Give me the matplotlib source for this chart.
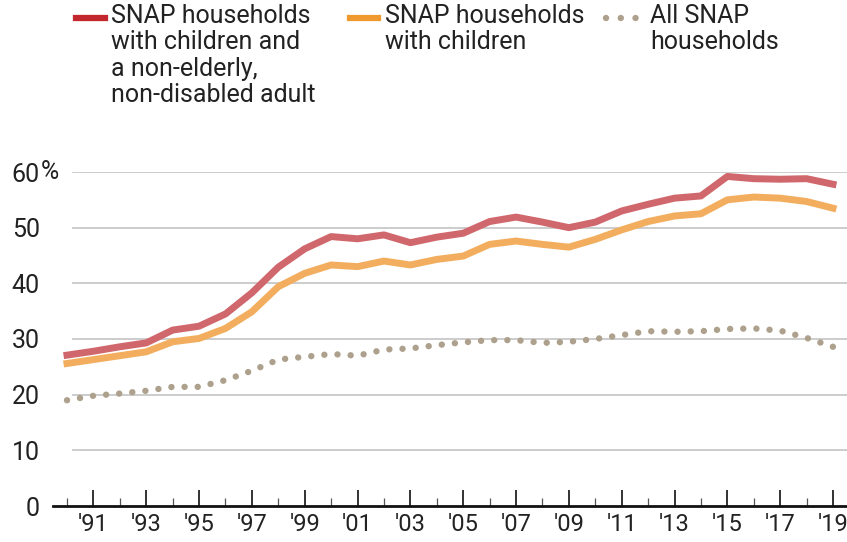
import matplotlib.pyplot as plt
from matplotlib.lines import Line2D
import numpy as np

plt.rcParams['font.family'] = ['Roboto', 'DejaVu Sans']

years = np.arange(1990, 2020)
# SNAP households with children and a non-elderly, non-disabled adult
kids_adult = [27.1, 27.8, 28.6, 29.3, 31.6, 32.3, 34.5, 38.3, 42.9, 46.2,
              48.4, 48.0, 48.7, 47.3, 48.3, 49.0, 51.1, 51.9, 51.0, 50.0,
              51.0, 53.0, 54.2, 55.3, 55.7, 59.2, 58.8, 58.7, 58.8, 57.8]
# SNAP households with children
kids = [25.6, 26.3, 27.0, 27.7, 29.5, 30.1, 31.9, 34.9, 39.4, 41.8,
        43.3, 43.0, 44.0, 43.3, 44.3, 44.9, 47.0, 47.6, 47.0, 46.5,
        47.9, 49.6, 51.1, 52.1, 52.5, 55.0, 55.5, 55.3, 54.7, 53.5]
# All SNAP households
all_hh = [19.0, 19.8, 20.2, 20.7, 21.4, 21.4, 22.6, 24.3, 26.3, 26.8,
          27.3, 27.0, 28.1, 28.3, 28.9, 29.4, 29.8, 29.8, 29.3, 29.5,
          30.0, 30.7, 31.4, 31.3, 31.4, 31.8, 31.9, 31.5, 30.2, 28.6]

yticks = [0, 10, 20, 30, 40, 50, 60]
xlabels = ["'%02d" % (y % 100) for y in range(1991, 2020, 2)]

W, H = 847, 542
fig = plt.figure(figsize=(W / 100, H / 100), dpi=100)
ax = fig.add_axes([53 / W, 36 / H, 1 - 53 / W, (506 - 172) / H])

ax.plot(years, kids_adult, color='#D0676C', lw=5, solid_joinstyle='round', zorder=4)
ax.plot(years, kids, color='#F2AE5E', lw=5, solid_joinstyle='round', zorder=3)
ax.plot(years, all_hh, color='#ADA08D', lw=4.6, linestyle=(0, (0.01, 2.05)),
        dash_capstyle='round', zorder=2)

ax.set_xlim(1989.47, 2019.53)
ax.set_ylim(0, 60)

for v in yticks[1:]:
    ax.axhline(v, xmin=20 / 794, xmax=1, color='#C8C8C8', lw=1.3, zorder=1)

for s in ['top', 'right', 'left']:
    ax.spines[s].set_visible(False)
ax.spines['bottom'].set_linewidth(2)
ax.spines['bottom'].set_color('#111111')
ax.spines['bottom'].set_zorder(5)

ax.set_yticks(yticks)
ax.set_yticklabels([str(v) for v in yticks])
ax.tick_params(axis='y', length=0, pad=9.5, labelsize=18, labelcolor='#222222')
ax.text(-12 / 794, 1.0, '%', transform=ax.transAxes, fontsize=18,
        color='#222222', ha='left', va='center')

ax.set_xticks(range(1991, 2020, 2))
ax.set_xticklabels(xlabels)
ax.set_xticks(range(1990, 2020, 2), minor=True)
ax.tick_params(axis='x', which='major', direction='in', length=11.5, width=1.3,
               color='#222222', labelsize=17, pad=5, labelcolor='#222222')
ax.tick_params(axis='x', which='minor', direction='in', length=6, width=0.9,
               color='#555555')

# legend
legend = [
    (76, 105, '#C1272D', '-', "SNAP households\nwith children and\na non-elderly,\nnon-disabled adult", 111),
    (350, 378, '#EE9A2E', '-', "SNAP households\nwith children", 385),
    (606, 636, '#ADA08D', 'dot', "All SNAP\nhouseholds", 650),
]
for x0, x1, c, st, label, tx in legend:
    if st == '-':
        fig.add_artist(Line2D([x0 / W, x1 / W], [1 - 18 / H, 1 - 18 / H],
                              color=c, lw=4.5, transform=fig.transFigure))
    else:
        fig.add_artist(Line2D([x0 / W, x1 / W], [1 - 18 / H, 1 - 18 / H],
                              color=c, lw=4.6, linestyle=(0, (0.01, 2.3)),
                              dash_capstyle='round', transform=fig.transFigure))
    fig.text(tx / W, 1 - 4 / H, label, fontsize=18, color='#222222',
             ha='left', va='top', linespacing=1.12)

fig.savefig('out.png', dpi=100)
